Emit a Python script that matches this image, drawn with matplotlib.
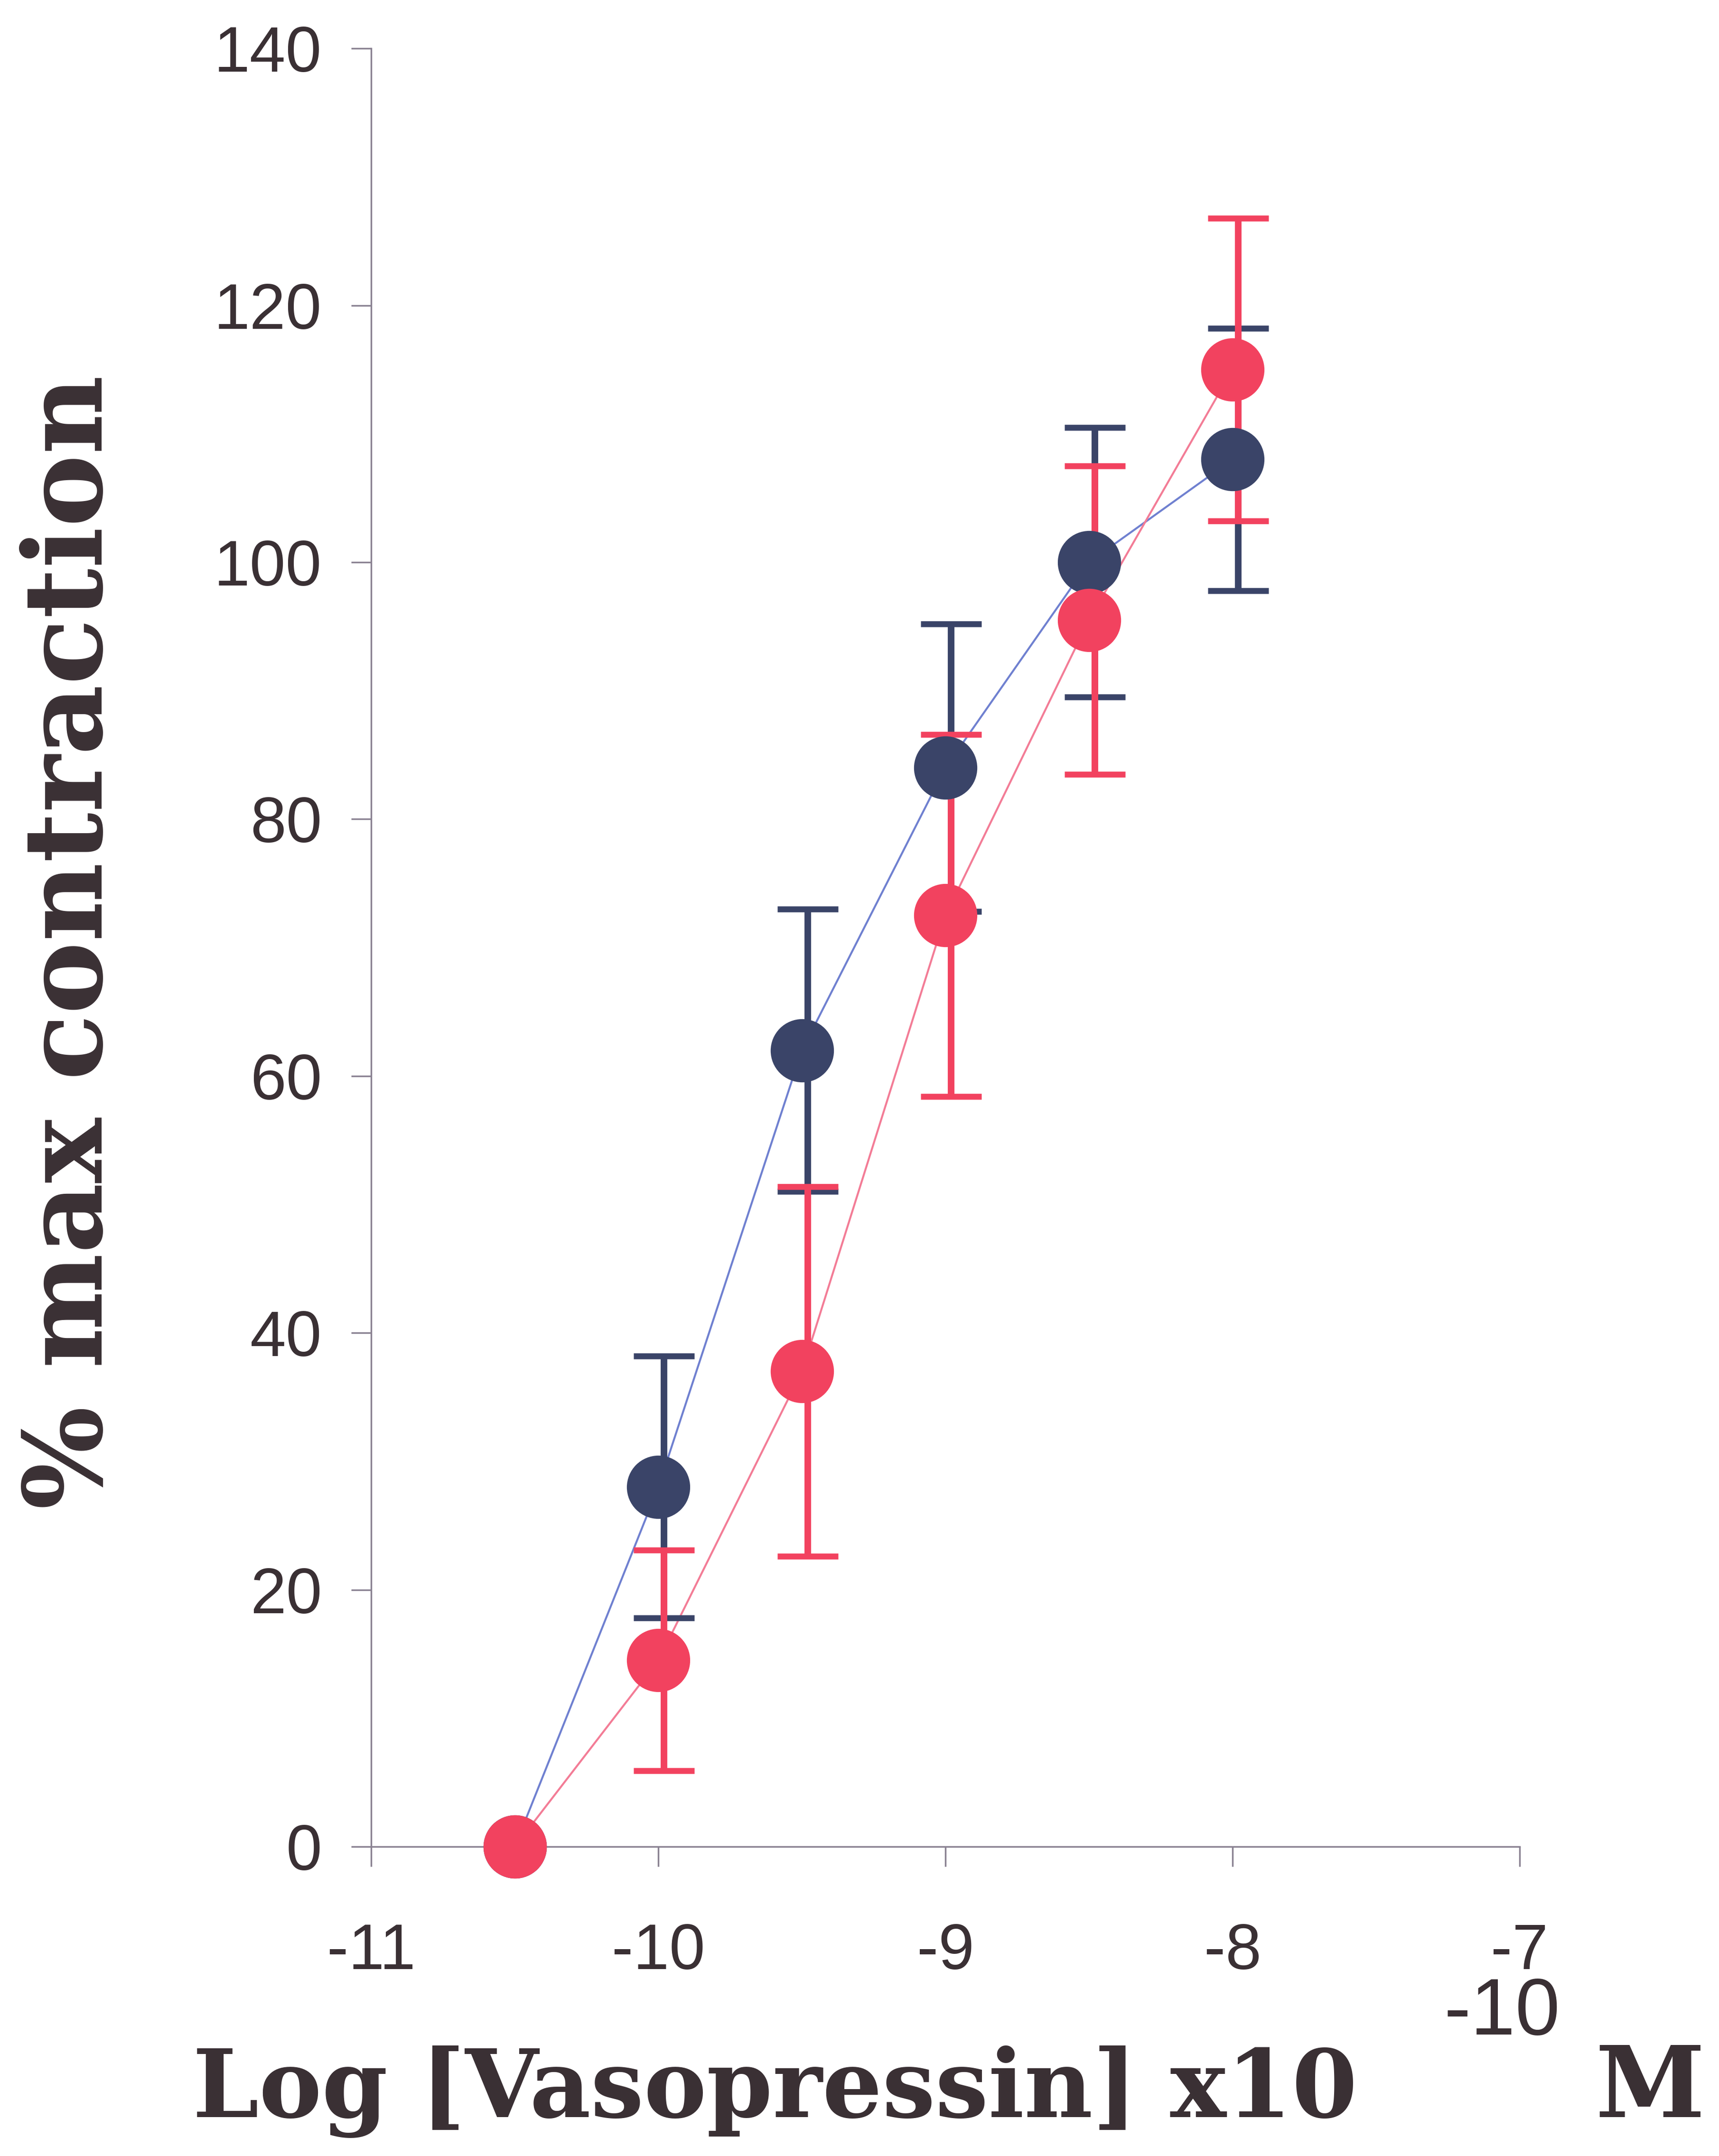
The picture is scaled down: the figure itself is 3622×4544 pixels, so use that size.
import matplotlib.pyplot as plt
import numpy as np

# Log concentration of vasopressin
log_conc = [-10.5, -10, -9.5, -9, -8.5, -8]

# navy series
navy_y = [0, 28, 62, 84, 100, 108]
navy_err = [0, 10.2, 11, 11.2, 10.5, 10.2]

# red series
red_y = [0, 14.5, 37, 72.5, 95.5, 115]
red_err = [0, 8.6, 14.4, 14.1, 12, 11.8]

xticks = [-11, -10, -9, -8, -7]
yticks = [0, 20, 40, 60, 80, 100, 120, 140]

navy = '#3a4468'
red = '#f2425f'
navy_line = '#6f80d0'
red_line = '#f37c96'
txt = '#3a3034'
spine = '#8a8292'

fig = plt.figure(figsize=(36.22, 45.44), dpi=100)
ax = fig.add_axes([0.216, 0.1435, 0.668, 0.834])

# thin connecting lines
ax.plot(log_conc, navy_y, color=navy_line, lw=3, zorder=1)
ax.plot(log_conc, red_y, color=red_line, lw=3, zorder=1)

# error bars sit a touch right of the markers, like the original
bar_x = np.array(log_conc[1:]) + 0.02
ax.errorbar(bar_x, navy_y[1:], yerr=navy_err[1:], fmt='none', ecolor=navy,
            elinewidth=10, capsize=46, capthick=9, zorder=2)
ax.errorbar(bar_x, red_y[1:], yerr=red_err[1:], fmt='none', ecolor=red,
            elinewidth=10, capsize=46, capthick=9, zorder=3)

# markers
ax.plot(log_conc, navy_y, 'o', color=navy, ms=96, mew=0, zorder=4)
ax.plot(log_conc, red_y, 'o', color=red, ms=96, mew=0, zorder=5)

ax.set_xlim(-11, -7)
ax.set_ylim(0, 140)
ax.set_xticks(xticks)
ax.set_yticks(yticks)
ax.set_xticklabels([str(t) for t in xticks])
ax.set_yticklabels([str(t) for t in yticks])

for s in ['top', 'right']:
    ax.spines[s].set_visible(False)
for s in ['left', 'bottom']:
    ax.spines[s].set_color(spine)
    ax.spines[s].set_linewidth(2.5)

ax.tick_params(axis='y', direction='out', length=30, width=2.5, color=spine,
               pad=45, labelsize=98, labelcolor=txt)
ax.tick_params(axis='x', direction='out', length=30, width=2.5, color=spine,
               pad=85, labelsize=98, labelcolor=txt)
for lab in ax.get_xticklabels() + ax.get_yticklabels():
    lab.set_family('Liberation Sans')

for art in ax.lines + ax.collections:
    art.set_clip_on(False)

# axis titles
fig.text(0.042, 0.563, '% max contraction', rotation=90, ha='center', va='center',
         family='DejaVu Serif', weight='bold', fontsize=165, color=txt)
fig.text(0.112, 0.018, 'Log [Vasopressin] x10', ha='left', va='baseline',
         family='DejaVu Serif', weight='bold', fontsize=143, color=txt)
fig.text(0.840, 0.066, '-10', ha='left', va='center',
         family='Liberation Sans', fontsize=122, color=txt)
fig.text(0.928, 0.018, 'M', ha='left', va='baseline',
         family='DejaVu Serif', weight='bold', fontsize=150, color=txt)

fig.savefig('out.png', dpi=100, facecolor='white')
